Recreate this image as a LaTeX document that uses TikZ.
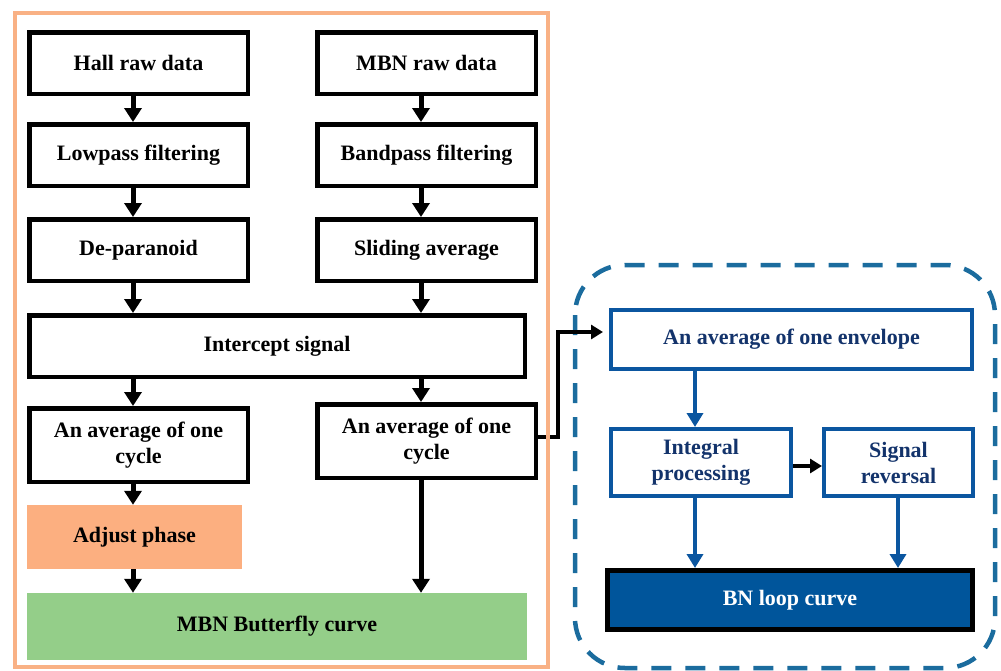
\documentclass[tikz,border=0pt]{standalone}
\usepackage{fontspec}
\setmainfont{Liberation Serif}
\usetikzlibrary{arrows.meta,calc}
\definecolor{frameor}{HTML}{F9B185}
\definecolor{adjor}{HTML}{FCAF80}
\definecolor{butgreen}{HTML}{94CE89}
\definecolor{dashblue}{HTML}{1B6C9E}
\definecolor{boxblue}{HTML}{0B56A0}
\definecolor{fillblue}{HTML}{00559B}
\definecolor{navytxt}{HTML}{13336B}
\begin{document}
\begin{tikzpicture}[x=1pt,y=-1pt,
  txt/.style={font=\fontsize{22}{26}\selectfont\bfseries, align=center, inner sep=0pt},
  bbox/.style={txt, draw=black, line width=4.5pt},
  bluebox/.style={txt, draw=boxblue, line width=4pt, text=navytxt},
  fbox/.style={txt, draw=none},
  arr/.style={line width=5pt, -{Triangle[width=17pt,length=14pt]}},
  barr/.style={draw=boxblue, line width=4pt, -{Triangle[width=16pt,length=14pt]}},
  carr/.style={line width=4pt, -{Triangle[width=14pt,length=12pt]}},
  dashframe/.style={draw=dashblue, line width=4.5pt, dash pattern=on 20pt off 14pt, rounded corners=50pt}]
\useasboundingbox (0,0) rectangle (1001,670);

% left block
\node[bbox, minimum width=218.5pt, minimum height=61.5pt] (hall) at (138.5,63) {Hall raw data};
\node[bbox, minimum width=218.5pt, minimum height=61.5pt] (mbn) at (426.5,63) {MBN raw data};
\node[bbox, minimum width=218.5pt, minimum height=61.5pt] (low) at (138.5,155) {Lowpass filtering};
\node[bbox, minimum width=218.5pt, minimum height=61.5pt] (band) at (426.5,155) {Bandpass filtering};
\node[bbox, minimum width=218.5pt, minimum height=61.5pt] (dep) at (138.5,250) {De-paranoid};
\node[bbox, minimum width=218.5pt, minimum height=61.5pt] (slide) at (426.5,250) {Sliding average};
\node[bbox, minimum width=495.5pt, minimum height=61.5pt] (inter) at (277,346) {Intercept signal};
\node[bbox, minimum width=218.5pt, minimum height=73.5pt] (avgL) at (138.5,445) {An average of one\\cycle};
\node[bbox, minimum width=218.5pt, minimum height=73.5pt] (avgR) at (426.5,441) {An average of one\\cycle};
\node[fbox, fill=adjor, minimum width=215pt, minimum height=64pt] (adj) at (134.5,537) {Adjust phase};
\node[fbox, fill=butgreen, minimum width=500pt, minimum height=67pt] (but) at (277,626.5) {MBN Butterfly curve};

\coordinate (cl) at (133,0);
\coordinate (cr) at (421,0);
\draw[arr] (hall.south -| cl) -- (low.north -| cl);
\draw[arr] (mbn.south -| cr) -- (band.north -| cr);
\draw[arr] (low.south -| cl) -- (dep.north -| cl);
\draw[arr] (band.south -| cr) -- (slide.north -| cr);
\draw[arr] (dep.south -| cl) -- (inter.north -| cl);
\draw[arr] (slide.south -| cr) -- (inter.north -| cr);
\draw[arr] (inter.south -| cl) -- (avgL.north -| cl);
\draw[arr] (inter.south -| cr) -- (avgR.north -| cr);
\draw[arr] (avgL.south -| cl) -- (adj.north -| cl);
\draw[arr] (adj.south -| cl) -- (but.north -| cl);
\draw[arr] (avgR.south -| cr) -- (but.north -| cr);

% right block
\draw[dashframe] (575,265) rectangle (995,668);
\node[bluebox, minimum width=361pt, minimum height=59pt] (env) at (791.5,339.5) {An average of one envelope};
\node[bluebox, minimum width=180pt, minimum height=67pt] (integ) at (701,462.5) {Integral\\processing};
\node[bluebox, minimum width=149pt, minimum height=67pt] (rev) at (898.5,462.5) {Signal\\reversal};
\node[txt, draw=black, line width=5pt, fill=fillblue, text=white, minimum width=365pt, minimum height=59pt] (bn) at (790,600) {BN loop curve};

\coordinate (cb1) at (695,0);
\coordinate (cb2) at (898,0);
\draw[barr] (env.south -| cb1) -- (integ.north -| cb1);
\draw[barr] (integ.south -| cb1) -- (bn.north -| cb1);
\draw[barr] (rev.south -| cb2) -- (bn.north -| cb2);
\draw[carr] ([yshift=-3.5pt]integ.east) -- ([yshift=-3.5pt]rev.west);

\coordinate (j) at (558,0);
\draw[carr] ([yshift=4pt]avgR.east) -| ([yshift=7.5pt]env.west -| j) -- ([xshift=-6pt,yshift=7.5pt]env.west);

% orange frame
\draw[frameor, line width=4.5pt] (15,13) rectangle (548,667);
\end{tikzpicture}
\end{document}
